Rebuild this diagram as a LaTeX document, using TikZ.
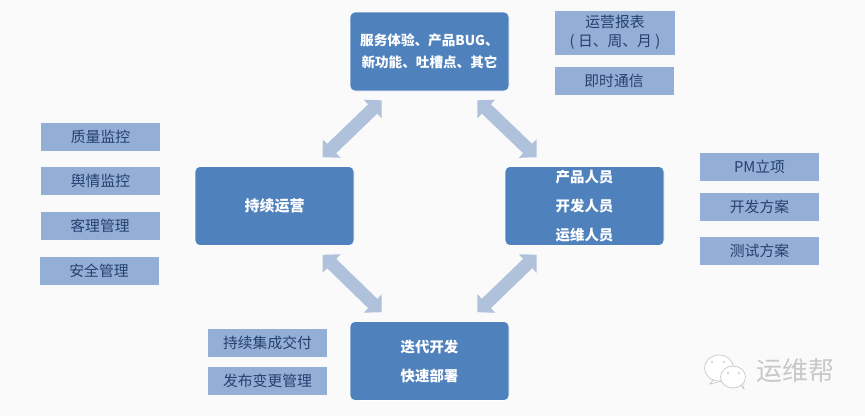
\documentclass[tikz,border=0pt]{standalone}
\usepackage{fontspec}
\setmainfont{Noto Sans CJK SC}
\usetikzlibrary{arrows.meta}
\usetikzlibrary{positioning}
\definecolor{mainblue}{HTML}{4F81BD}
\definecolor{sideblue}{HTML}{93AFD5}
\definecolor{sidetext}{HTML}{24406E}
\definecolor{linkblue}{HTML}{B0C1DC}
\definecolor{markgray}{HTML}{C8C8C8}

\begin{document}
\begin{tikzpicture}
		[x=1pt,y=-1pt,
		 stage/.style={rectangle,rounded corners=5pt,fill=mainblue,draw=white,line width=0.6pt,text=white,font=\fontsize{14.4}{29}\selectfont\bfseries,align=center,minimum width=159pt,minimum height=79pt,inner sep=0pt},
		 tag/.style={rectangle,fill=sideblue,text=sidetext,font=\fontsize{14.8}{19}\selectfont,align=center,minimum width=119pt,minimum height=28pt,inner sep=0pt},
		 link/.style={{Triangle[length=12.5pt,width=25pt]}-{Triangle[length=12.5pt,width=25pt]},line width=13pt,draw=linkblue}]

		\fill[white!98!black] (0,0) rectangle (865,416);
		\useasboundingbox (0,0) rectangle (865,416);

		% the four stages
		\node[stage,font=\fontsize{13.6}{22}\selectfont\bfseries] (Feedback) at (429.5,51.5) {服务体验、产品BUG、\\新功能、吐槽点、其它};
		\node[stage,font=\fontsize{15}{22}\selectfont\bfseries] (Operate) at (274.5,206) {持续运营};
		\node[stage] (Staff) at (584.5,206) {产品人员\\开发人员\\运维人员};
		\node[stage] (Develop) at (429.5,361) {迭代开发\\快速部署};

		% ends of the block arrows
		\coordinate (FeedbackA) at ([shift={(32,9)}]Feedback.south west);
		\coordinate (FeedbackB) at ([shift={(-32,9)}]Feedback.south east);
		\coordinate (OperateA) at ([shift={(128,-9)}]Operate.north west);
		\coordinate (OperateB) at ([shift={(128,9)}]Operate.south west);
		\coordinate (StaffA) at ([shift={(32,-9)}]Staff.north west);
		\coordinate (StaffB) at ([shift={(32,9)}]Staff.south west);
		\coordinate (DevelopA) at ([shift={(32,-9)}]Develop.north west);
		\coordinate (DevelopB) at ([shift={(-32,-9)}]Develop.north east);
		\draw[link] (FeedbackA) -- (OperateA);
		\draw[link] (FeedbackB) -- (StaffA);
		\draw[link] (OperateB) -- (DevelopA);
		\draw[link] (StaffB) -- (DevelopB);

		% upper right
		\node[tag,minimum height=44pt,minimum width=120pt] (Report) at (615,32.5) {运营报表\\( 日、周、月 )};
		\node[tag,minimum width=119pt] (Chat) at (614,81) {即时通信};

		% left column
		\node[tag] (Quality) at (100.5,136.5) {质量监控};
		\node[tag] (Opinion) at (100.5,180.5) {舆情监控};
		\node[tag] (Client) at (100,225.5) {客理管理};
		\node[tag] (Safety) at (99,270.5) {安全管理};

		% right column
		\node[tag] (Project) at (759.5,167) {PM立项};
		\node[tag] (Plan) at (759.5,207) {开发方案};
		\node[tag] (Test) at (759.5,251) {测试方案};

		% lower middle
		\node[tag] (Deliver) at (267.5,342.5) {持续集成交付};
		\node[tag] (Change) at (267.5,381) {发布变更管理};

		% corner mark
		\node[text=markgray,font=\fontsize{26}{28}\selectfont] (Mark) at (795,371) {运维帮};
		\begin{scope}[draw=markgray,fill=white,line width=0.7pt]
			\filldraw (714,379) -- (710,384) -- (722,381) -- cycle;
			\filldraw (719,368) ellipse (14.5 and 13);
			\filldraw (740,385) -- (744,389) -- (742,382) -- cycle;
			\filldraw (733,377) ellipse (12.5 and 11);
			\fill[markgray] (712,362) circle (1.2) (724,362) circle (1.2) (728,373) circle (1.1) (739,373) circle (1.1);
		\end{scope}
	\end{tikzpicture}
\end{document}
